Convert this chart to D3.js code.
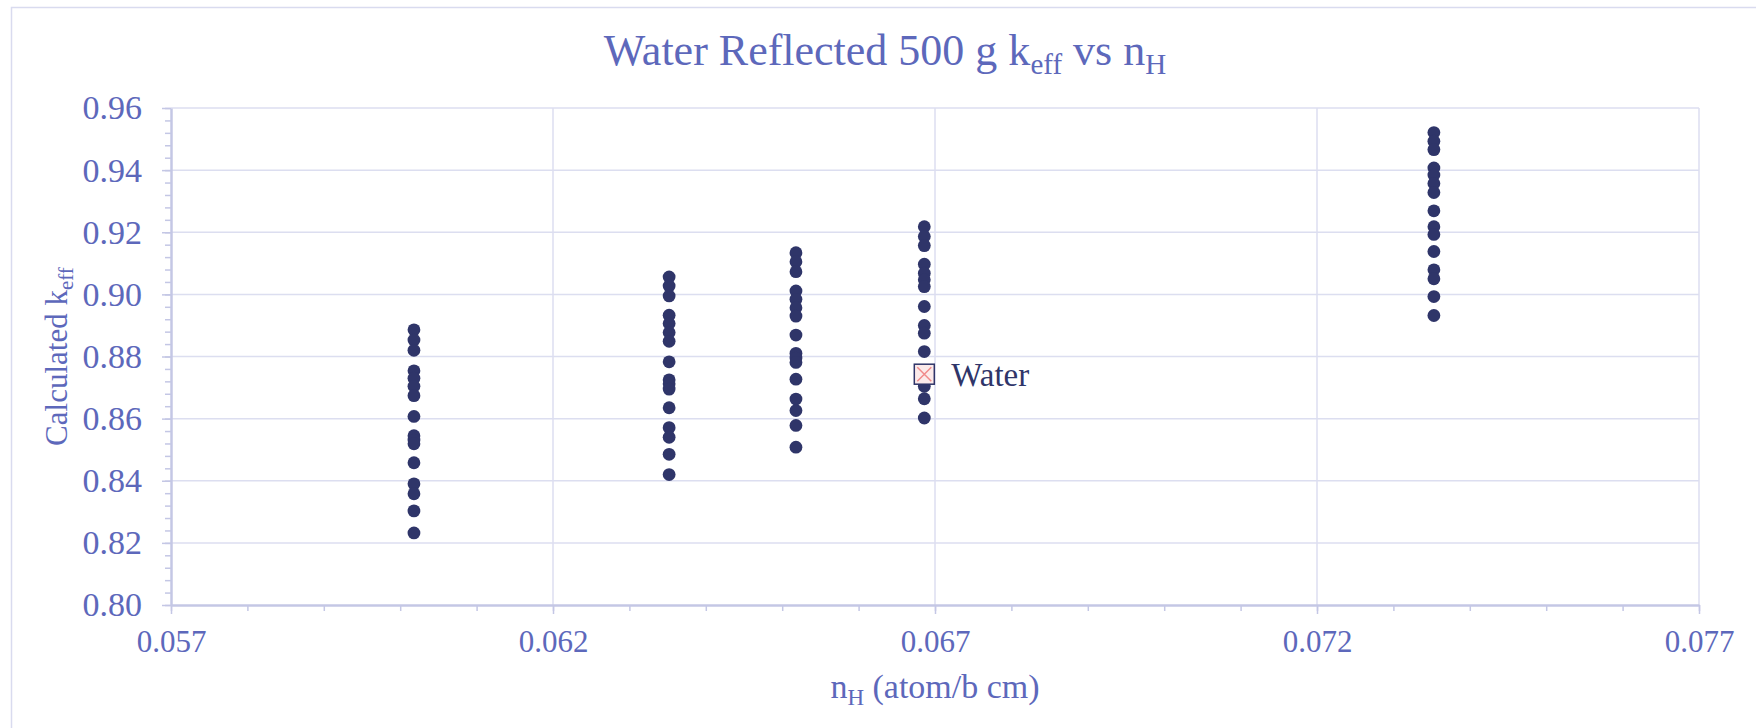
<!DOCTYPE html>
<html>
<head>
<meta charset="utf-8">
<script src="https://cdn.jsdelivr.net/npm/d3@7"></script>
<style>
    body { margin: 0; background: #fff; }
    svg { display: block; }
</style>
</head>
<body>
<svg id="chart"></svg>
<script>
// n_H for each group of calculations
const groupNH = [0.06018, 0.06352, 0.06518, 0.06686, 0.07353];

// calculated k_eff, one list per group
const keff1 = [0.8886, 0.8853, 0.8820, 0.8754, 0.8730, 0.8704, 0.8674, 0.8607, 0.8545, 0.8531,
    0.8519, 0.8458, 0.8390, 0.8358, 0.8303, 0.8232];
const keff2 = [0.9056, 0.9027, 0.8995, 0.8933, 0.8906, 0.8877, 0.8849, 0.8783, 0.8725, 0.8712,
    0.8695, 0.8635, 0.8571, 0.8540, 0.8485, 0.8420];
const keff3 = [0.9134, 0.9105, 0.9073, 0.9011, 0.8984, 0.8957, 0.8930, 0.8869, 0.8810, 0.8795,
    0.8781, 0.8727, 0.8663, 0.8626, 0.8578, 0.8508];
const keff4 = [0.9218, 0.9186, 0.9157, 0.9097, 0.9068, 0.9047, 0.9025, 0.8961, 0.8900, 0.8875,
    0.8816, 0.8752, 0.8704, 0.8664, 0.8602];
const keff5 = [0.9521, 0.9493, 0.9466, 0.9407, 0.9384, 0.9357, 0.9328, 0.9269, 0.9218, 0.9193,
    0.9138, 0.9079, 0.9050, 0.8993, 0.8932];

// the water case
const waterNH = [0.06686];
const waterKeff = [0.8743];
const waterLabel = ["Water"];

const xTicks = [0.057, 0.062, 0.067, 0.072, 0.077];
const yTicks = [0.80, 0.82, 0.84, 0.86, 0.88, 0.90, 0.92, 0.94, 0.96];

const width = 1756;
const height = 728;
const font = "'Liberation Serif', 'Times New Roman', serif";
const textColor = "#5d68bb";
const gridColor = "#dcdef0";
const axisColor = "#c4c7e5";
const dotColor = "#2f3569";

const svg = d3.select("#chart")
    .attr("width", width)
    .attr("height", height)
    .attr("font-family", font);

// chart border
svg.append("rect")
    .attr("x", 11.5)
    .attr("y", 7.5)
    .attr("width", width)
    .attr("height", height)
    .attr("fill", "none")
    .attr("stroke", "#d9dbef")
    .attr("stroke-width", 1.5);

const x = d3.scaleLinear().domain([0.057, 0.077]).range([171, 1699]);
const y = d3.scaleLinear().domain([0.80, 0.96]).range([605, 108]);

// gridlines
svg.append("g")
    .selectAll("line")
    .data(yTicks.slice(1))
    .enter().append("line")
    .attr("x1", x(0.057)).attr("x2", x(0.077))
    .attr("y1", d => y(d)).attr("y2", d => y(d))
    .attr("stroke", gridColor)
    .attr("stroke-width", 1.5);

svg.append("g")
    .selectAll("line")
    .data(xTicks.slice(1))
    .enter().append("line")
    .attr("x1", d => x(d)).attr("x2", d => x(d))
    .attr("y1", y(0.80)).attr("y2", y(0.96))
    .attr("stroke", gridColor)
    .attr("stroke-width", 1.5);

// minor ticks
const yMinor = d3.range(0, 41).map(i => 0.80 + i * 0.004);
const xMinor = d3.range(0, 21).map(i => 0.057 + i * 0.001);

svg.append("g")
    .attr("transform", `translate(${x(0.057)},0)`)
    .call(d3.axisLeft(y).tickValues(yMinor).tickSize(6).tickFormat(""))
    .call(g => g.select(".domain").remove())
    .call(g => g.selectAll("line").attr("stroke", axisColor).attr("stroke-width", 1.5));

svg.append("g")
    .attr("transform", `translate(0,${y(0.80)})`)
    .call(d3.axisBottom(x).tickValues(xMinor).tickSize(6).tickFormat(""))
    .call(g => g.select(".domain").remove())
    .call(g => g.selectAll("line").attr("stroke", axisColor).attr("stroke-width", 1.5));

// major axes
svg.append("g")
    .attr("transform", `translate(${x(0.057)},0)`)
    .call(d3.axisLeft(y).tickValues(yTicks).tickSize(9).tickSizeOuter(0).tickPadding(20)
        .tickFormat(d3.format(".2f")))
    .call(g => g.select(".domain").attr("stroke", axisColor).attr("stroke-width", 2.5))
    .call(g => g.selectAll("line").attr("stroke", axisColor).attr("stroke-width", 1.5))
    .call(g => g.selectAll("text")
        .attr("font-family", font)
        .attr("font-size", 34)
        .attr("fill", textColor));

svg.append("g")
    .attr("transform", `translate(0,${y(0.80)})`)
    .call(d3.axisBottom(x).tickValues(xTicks).tickSize(9).tickSizeOuter(0).tickPadding(16)
        .tickFormat(d3.format(".3f")))
    .call(g => g.select(".domain").attr("stroke", axisColor).attr("stroke-width", 2.5))
    .call(g => g.selectAll("line").attr("stroke", axisColor).attr("stroke-width", 1.5))
    .call(g => g.selectAll("text")
        .attr("font-family", font)
        .attr("font-size", 31)
        .attr("fill", textColor));

// points
const groups = [keff1, keff2, keff3, keff4, keff5];
const points = [];
groups.forEach((list, i) => {
    list.forEach(k => points.push({nH: groupNH[i], keff: k}));
});

svg.append("g")
    .selectAll("circle")
    .data(points)
    .enter().append("circle")
    .attr("cx", d => x(d.nH))
    .attr("cy", d => y(d.keff))
    .attr("r", 6.4)
    .attr("fill", dotColor);

// water marker
const water = waterNH.map((n, i) => ({nH: n, keff: waterKeff[i], label: waterLabel[i]}));
const wm = svg.append("g")
    .selectAll("g")
    .data(water)
    .enter().append("g")
    .attr("transform", d => `translate(${x(d.nH)},${y(d.keff)})`);

wm.append("rect")
    .attr("x", -10).attr("y", -10)
    .attr("width", 20).attr("height", 20)
    .attr("fill", "#fbeaea")
    .attr("stroke", dotColor)
    .attr("stroke-width", 1.5);
wm.append("path")
    .attr("d", "M-7,-7L7,7M7,-7L-7,7")
    .attr("stroke", "#f08a8a")
    .attr("stroke-width", 1.5);
wm.append("text")
    .attr("x", 27)
    .attr("y", 12)
    .attr("font-size", 33)
    .attr("fill", dotColor)
    .text(d => d.label);

// title
const title = svg.append("text")
    .attr("x", 885)
    .attr("y", 65)
    .attr("text-anchor", "middle")
    .attr("font-size", 44)
    .attr("fill", textColor);
title.append("tspan").text("Water Reflected 500 g k");
title.append("tspan").attr("font-size", 29).attr("dy", 9).text("eff");
title.append("tspan").attr("dy", -9).text(" vs n");
title.append("tspan").attr("font-size", 29).attr("dy", 9).text("H");

// axis titles
const xTitle = svg.append("text")
    .attr("x", x(0.067))
    .attr("y", 698)
    .attr("text-anchor", "middle")
    .attr("font-size", 34)
    .attr("fill", textColor);
xTitle.append("tspan").text("n");
xTitle.append("tspan").attr("font-size", 23).attr("dy", 7).text("H");
xTitle.append("tspan").attr("dy", -7).text(" (atom/b cm)");

const yTitle = svg.append("text")
    .attr("transform", `translate(67,${y(0.88)}) rotate(-90)`)
    .attr("text-anchor", "middle")
    .attr("font-size", 31)
    .attr("fill", textColor);
yTitle.append("tspan").text("Calculated k");
yTitle.append("tspan").attr("font-size", 21).attr("dy", 6).text("eff");
</script>
</body>
</html>
